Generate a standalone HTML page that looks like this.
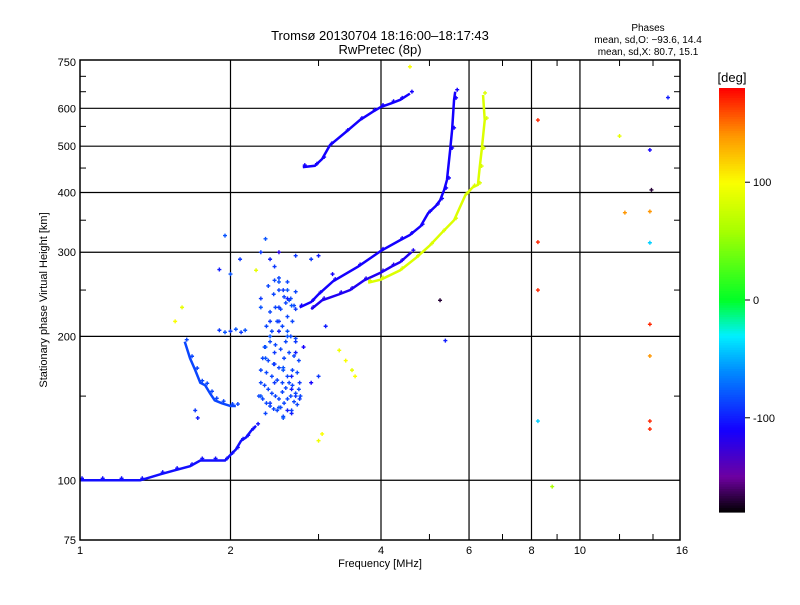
<!DOCTYPE html>
<html><head><meta charset="utf-8"><style>
body{margin:0;background:#fff}
svg text{font-family:"Liberation Sans",sans-serif;fill:#000}
</style></head><body>
<svg id="chart" width="800" height="600" xmlns="http://www.w3.org/2000/svg">
<rect width="800" height="600" fill="#fff"/>
<text x="380" y="40" font-size="13" text-anchor="middle">Tromsø 20130704 18:16:00–18:17:43</text>
<text x="380" y="54" font-size="13" text-anchor="middle">RwPretec (8p)</text>
<text x="648" y="31" font-size="10" text-anchor="middle">Phases</text>
<text x="648" y="43" font-size="10" text-anchor="middle">mean, sd,O: −93.6, 14.4</text>
<text x="648" y="55" font-size="10" text-anchor="middle">mean, sd,X:  80.7, 15.1</text>
<text transform="translate(47,300) rotate(-90)" font-size="11" text-anchor="middle">Stationary phase Virtual Height [km]</text>
<text x="380" y="567" font-size="11" text-anchor="middle">Frequency [MHz]</text>
<text x="732" y="82" font-size="13" text-anchor="middle">[deg]</text>
<g id="grid"></g><g id="marks"></g><g id="axes"></g><g id="cbar"></g>
</svg>
<script>
const xTicks=[1,2,4,6,8,10,16];
const yTicks=[75,100,200,300,400,500,600,750];
const cbTicks=[100,0,-100];
const lowF=[1.0,1.1,1.2,1.32,1.45,1.55,1.66,1.74,1.85,1.95,2.0,2.05,2.1,2.15,2.2,2.25];
const lowH=[100,100,100,100,103,105,107,110,110,110,113,116,121,123,127,130];
const leftF=[1.62,1.66,1.7,1.74,1.78,1.82,1.86,1.92,2.0,2.05];
const leftH=[195,180,170,160,158,152,147,145,143,143];
const oUpF=[2.75,2.9,3.0,3.21,3.6,4.0,4.37,4.57,4.8,4.97,5.15,5.25,5.35,5.42,5.5,5.55,5.6,5.63];
const oUpH=[230,236,245,261,280,302,318,326,340,362,375,385,405,425,491,541,625,650];
const oLoF=[2.9,3.05,3.3,3.47,3.7,4.0,4.2,4.37,4.6];
const oLoH=[228,238,245,250,262,272,280,286,300];
const xF=[3.77,4.0,4.37,4.7,5.01,5.3,5.6,5.9,6.1,6.25,6.3,6.36,6.45,6.4];
const xH=[259,263,275,292,310,330,350,395,410,415,450,491,567,640];
const hiF=[2.79,2.95,3.05,3.16,3.4,3.63,3.85,4.0,4.2,4.37,4.57];
const hiH=[452,455,470,502,535,567,590,604,615,625,644];
// dense spread-F cluster (phase ~ -90)
const cF=[2.28,2.32,2.36,2.4,2.44,2.48,2.52,2.56,2.6,2.64,2.68,2.72,2.76,2.3,2.34,2.38,2.42,2.46,2.5,2.54,2.58,2.62,2.66,2.7,2.74,2.3,2.36,2.42,2.48,2.54,2.6,2.66,2.72,2.32,2.38,2.44,2.5,2.56,2.62,2.68,2.74,2.34,2.4,2.46,2.52,2.58,2.64,2.7,2.36,2.42,2.48,2.54,2.6,2.66,2.4,2.46,2.52,2.58,2.64,2.44,2.5,2.56,2.62,2.68,2.38,2.5,2.6,2.7,2.35,2.55,2.65,2.45];
const cH=[150,148,145,143,141,140,142,145,148,150,146,144,150,160,158,155,152,150,148,153,156,160,158,152,155,170,168,165,162,160,165,170,168,180,178,175,172,180,185,182,178,190,195,192,188,195,200,198,210,205,215,210,220,215,225,230,228,235,240,245,250,242,238,232,255,265,260,248,138,136,140,262];
const sF=[2.3,2.35,2.4,2.45,2.5,2.55,2.6,2.65,2.7,2.3,2.4,2.5,2.6,2.7,2.8,2.35,2.45,2.55,2.65,2.75,2.3,2.4,2.5,2.6,2.7,2.35,2.45,2.55,2.65,2.75,2.4,2.5,2.6,2.7,2.45,2.55,2.65,2.5,2.6,1.9,1.95,2.0,2.05,2.1,2.14,1.9,2.09,2.25,2.5,2.7,3.0,3.3,3.4,3.5,3.55,3.0,3.05,2.9,3.0,1.7,1.72,1.6,1.55,8.24,8.24,8.24,8.24,8.8,12.0,12.3,13.8,13.9,13.8,13.8,13.8,13.8,13.8,13.8,15.0,5.38,5.25,4.57,2.3,2.9,3.1,3.2,1.95,2.0];
const sH=[300,320,290,280,260,250,240,232,228,230,215,205,200,195,190,180,175,170,165,160,150,145,142,140,150,190,185,172,155,148,200,215,205,185,160,135,138,230,250,206,204,205,207,204,206,276,290,275,300,295,295,187,178,170,165,121,125,160,165,140,135,230,215,567,315,250,133,97,525,363,365,405,491,314,212,182,133,128,632,196,238,733,240,290,210,270,325,270];
const sP=[-90,-80,-100,-90,-80,-90,-100,-80,-90,-80,-90,-100,-80,-90,-110,-80,-90,-80,-100,-90,-80,-90,-80,-100,-90,-80,-90,-80,-100,-90,-80,-90,-80,-100,-90,-80,-100,-90,-80,-90,-80,-90,-80,-90,-80,-100,-90,90,-120,-90,-100,95,100,90,100,95,100,-110,-90,-90,-100,90,100,170,170,170,-40,60,90,140,140,-170,-110,-40,170,140,170,170,-100,-100,-170,100,-90,-90,-100,-110,-80,-80];

const X=f=>80+150.5*Math.log2(f);
const Y=h=>540-478*Math.log10(h/75);
const NS="http://www.w3.org/2000/svg";
function mk(parent,tag,attrs){const e=document.createElementNS(NS,tag);for(const k in attrs)e.setAttribute(k,attrs[k]);parent.appendChild(e);return e;}
const stops=[[-180,0,0,0],[-150,110,0,160],[-110,20,0,255],[-60,0,140,255],[-30,0,240,255],[0,0,255,40],[60,170,255,0],[100,250,255,0],[140,255,150,0],[180,255,0,0]];
function col(p){for(let i=1;i<stops.length;i++){if(p<=stops[i][0]){const a=stops[i-1],b=stops[i],t=(p-a[0])/(b[0]-a[0]);return `rgb(${[1,2,3].map(j=>Math.round(a[j]+t*(b[j]-a[j]))).join(',')})`;}}return 'rgb(255,0,0)';}
const grid=document.getElementById('grid'),marks=document.getElementById('marks'),axes=document.getElementById('axes'),cb=document.getElementById('cbar');
[2,4,6,8,10].forEach(f=>{const l=mk(grid,'line',{x1:X(f),x2:X(f),y1:60,y2:540,stroke:'#000','stroke-width':1.2});

});
[100,200,300,400,500,600].forEach(h=>{const l=mk(grid,'line',{x1:80,x2:680,y1:Y(h),y2:Y(h),stroke:'#000','stroke-width':1.2});

});
function plus(x,y,c){const g=mk(marks,'path',{d:`M${x-2},${y}h4M${x},${y-2}v4`,stroke:c,'stroke-width':1.4});

}
function trace(F,H,p,name){const pts=F.map((f,i)=>X(f)+','+Y(H[i])).join(' ');
const l=mk(marks,'polyline',{points:pts,fill:'none',stroke:col(p),'stroke-width':2.5});


F.forEach((f,i)=>plus(X(f)+2,Y(H[i])-2,col(p)));}
trace(lowF,lowH,-105,'low-o-trace');
trace(leftF,leftH,-85,'left-o-trace');
trace(oUpF,oUpH,-110,'o-trace-upper');
trace(oLoF,oLoH,-115,'o-trace-lower');
trace(xF,xH,85,'x-trace');
trace(hiF,hiH,-110,'high-o-trace');
cF.forEach((f,i)=>plus(X(f),Y(cH[i]),col(-85)));
sF.forEach((f,i)=>plus(X(f),Y(sH[i]),col(sP[i])));
const fr=mk(axes,'rect',{x:80,y:60,width:600,height:480,fill:'none',stroke:'#000','stroke-width':1.5});


[3,5,7,9,12,14].forEach(f=>{mk(axes,'line',{x1:X(f),x2:X(f),y1:540,y2:534,stroke:'#000'});mk(axes,'line',{x1:X(f),x2:X(f),y1:60,y2:66,stroke:'#000'});});
[150,250,350,450,550,650,700].forEach(h=>{mk(axes,'line',{x1:80,x2:86,y1:Y(h),y2:Y(h),stroke:'#000'});mk(axes,'line',{x1:674,x2:680,y1:Y(h),y2:Y(h),stroke:'#000'});});
xTicks.forEach(f=>{const t=mk(axes,'text',{x:X(f),y:554,'font-size':11,'text-anchor':'middle'});t.textContent=f;

});
yTicks.forEach(h=>{const t=mk(axes,'text',{x:76,y:Y(h)+4,'font-size':11,'text-anchor':'end'});t.textContent=h;

});
const CY=p=>300-(p/180)*212;
for(let p=-180;p<180;p+=2){mk(cb,'rect',{x:719,y:CY(p+2),width:26,height:CY(p)-CY(p+2)+0.6,fill:col(p+1)});}
const cbf=mk(cb,'rect',{x:719,y:88,width:26,height:424,fill:'none',stroke:'none'});


cbTicks.forEach(p=>{mk(cb,'line',{x1:745,x2:750,y1:CY(p),y2:CY(p),stroke:'#000'});const t=mk(cb,'text',{x:753,y:CY(p)+4,'font-size':11});t.textContent=p;

});
</script>
</body></html>
